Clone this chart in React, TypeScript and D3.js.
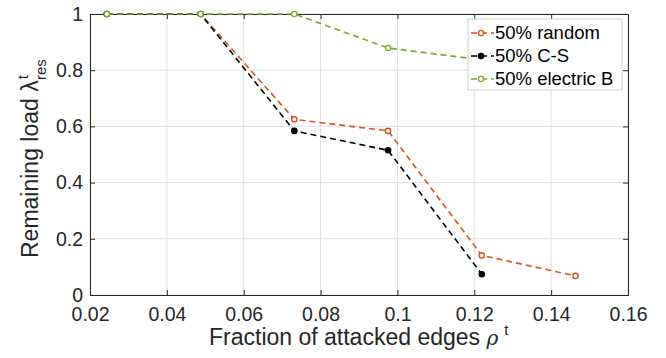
import { useEffect, useRef } from 'react';
import * as d3 from 'd3';

const xValues = [1 / 41, 2 / 41, 3 / 41, 4 / 41, 5 / 41, 6 / 41];
const randomValues = [1, 1, 0.625, 0.584, 0.141, 0.068];
const csValues = [1, 1, 0.584, 0.515, 0.074];
const electricValues = [1, 1, 1, 0.879, 0.837];
const xTicks = [0.02, 0.04, 0.06, 0.08, 0.1, 0.12, 0.14, 0.16];
const yTicks = [0, 0.2, 0.4, 0.6, 0.8, 1];

const series = [
	{ name: '50% random', values: randomValues, color: '#D95319', fill: '#fff' },
	{ name: '50% C-S', values: csValues, color: '#000000', fill: '#000' },
	{ name: '50% electric B', values: electricValues, color: '#77AC30', fill: '#fff' },
];

export default function App() {
	const svgRef = useRef<SVGSVGElement>(null);

	useEffect(() => {
		if (!svgRef.current) return;
		const width = 666;
		const height = 358;
		const margin = { top: 14, right: 38, bottom: 63, left: 90 };
		const chartWidth = width - margin.left - margin.right;
		const chartHeight = height - margin.top - margin.bottom;
		const font = 'Liberation Sans, Arial, sans-serif';

		d3.select(svgRef.current).selectAll('*').remove();
		const svg = d3
			.select(svgRef.current)
			.attr('width', width)
			.attr('height', height)
			.append('g')
			.attr('transform', `translate(${margin.left},${margin.top})`);

		const xScale = d3.scaleLinear().domain([0.02, 0.16]).range([0, chartWidth]);
		const yScale = d3.scaleLinear().domain([0, 1]).range([chartHeight, 0]);

		// Grid lines
		svg
			.append('g')
			.selectAll('line')
			.data(xTicks)
			.join('line')
			.attr('x1', (d) => xScale(d))
			.attr('x2', (d) => xScale(d))
			.attr('y1', 0)
			.attr('y2', chartHeight)
			.attr('stroke', '#dfdfdf')
			.attr('stroke-width', 1);
		svg
			.append('g')
			.selectAll('line')
			.data(yTicks)
			.join('line')
			.attr('x1', 0)
			.attr('x2', chartWidth)
			.attr('y1', (d) => yScale(d))
			.attr('y2', (d) => yScale(d))
			.attr('stroke', '#dfdfdf')
			.attr('stroke-width', 1);

		// Axes, MATLAB style: full box, inward ticks
		const xAxis = svg
			.append('g')
			.attr('transform', `translate(0,${chartHeight})`)
			.call(
				d3
					.axisBottom(xScale)
					.tickValues(xTicks)
					.tickSize(-5)
					.tickPadding(12)
					.tickFormat((d) => d3.format('~g')(d as number))
			);
		const yAxis = svg
			.append('g')
			.call(
				d3
					.axisLeft(yScale)
					.tickValues(yTicks)
					.tickSize(-5)
					.tickPadding(7)
					.tickFormat((d) => d3.format('~g')(d as number))
			);
		svg
			.append('g')
			.call(d3.axisTop(xScale).tickValues(xTicks).tickSize(-5).tickFormat(() => ''));
		svg
			.append('g')
			.attr('transform', `translate(${chartWidth},0)`)
			.call(d3.axisRight(yScale).tickValues(yTicks).tickSize(-5).tickFormat(() => ''));

		svg.selectAll('.domain').attr('stroke', '#262626');
		svg.selectAll('.tick line').attr('stroke', '#262626');
		[xAxis, yAxis].forEach((a) =>
			a.selectAll('text').style('font-size', '19.5px').style('font-family', font).style('fill', '#262626')
		);

		// Lines and markers
		const line = d3
			.line<number>()
			.x((_, i) => xScale(xValues[i]))
			.y((d) => yScale(d));

		series.forEach((s) => {
			svg
				.append('path')
				.datum(s.values)
				.attr('fill', 'none')
				.attr('stroke', s.color)
				.attr('stroke-width', 1.6)
				.attr('stroke-dasharray', '6,4')
				.attr('d', line);
			svg
				.append('g')
				.selectAll('circle')
				.data(s.values)
				.join('circle')
				.attr('cx', (_, i) => xScale(xValues[i]))
				.attr('cy', (d) => yScale(d))
				.attr('r', 2.6)
				.attr('fill', s.fill)
				.attr('stroke', s.color)
				.attr('stroke-width', 1.4);
		});

		// Legend
		const legend = svg.append('g').attr('transform', `translate(${468 - margin.left},${19 - margin.top})`);
		legend
			.append('rect')
			.attr('width', 154)
			.attr('height', 71)
			.attr('fill', '#fff')
			.attr('stroke', '#cfcfcf')
			.attr('stroke-width', 1);
		series.forEach((s, i) => {
			const y = 14 + i * 23;
			legend
				.append('line')
				.attr('x1', 3)
				.attr('x2', 26)
				.attr('y1', y)
				.attr('y2', y)
				.attr('stroke', s.color)
				.attr('stroke-width', 1.6)
				.attr('stroke-dasharray', '6,4');
			legend
				.append('circle')
				.attr('cx', 13)
				.attr('cy', y)
				.attr('r', 2.6)
				.attr('fill', s.fill)
				.attr('stroke', s.color)
				.attr('stroke-width', 1.4);
			legend
				.append('text')
				.attr('x', 27)
				.attr('y', y)
				.attr('dy', '0.35em')
				.style('font-size', '18.5px')
				.style('font-family', font)
				.style('fill', '#000')
				.text(s.name);
		});

		// Axis labels
		const xLabel = svg
			.append('text')
			.attr('x', 209 - margin.left)
			.attr('y', 345 - margin.top)
			.style('font-size', '23px')
			.style('font-family', font)
			.style('fill', '#262626');
		xLabel.append('tspan').text('Fraction of attacked edges  ');
		xLabel.append('tspan').style('font-family', 'DejaVu Serif, serif').style('font-style', 'italic').style('font-size', '20px').text('ρ');
		xLabel.append('tspan').attr('dy', -10).attr('dx', 6).style('font-size', '15px').text('t');

		const yLabel = svg
			.append('text')
			.attr('transform', `translate(${38 - margin.left},${258 - margin.top}) rotate(-90)`)
			.style('font-size', '23px')
			.style('font-family', font)
			.style('fill', '#262626');
		yLabel.append('tspan').text('Remaining load ');
		yLabel.append('tspan').text('λ');
		yLabel.append('tspan').attr('dy', -10).attr('dx', 1).style('font-size', '15px').text('t');
		yLabel.append('tspan').attr('dy', 18).attr('dx', -5).style('font-size', '15px').text('res');
	}, []);

	return (
		<div style={{ position: 'absolute', left: 0, top: 0 }}>
			<svg ref={svgRef}></svg>
		</div>
	);
}
